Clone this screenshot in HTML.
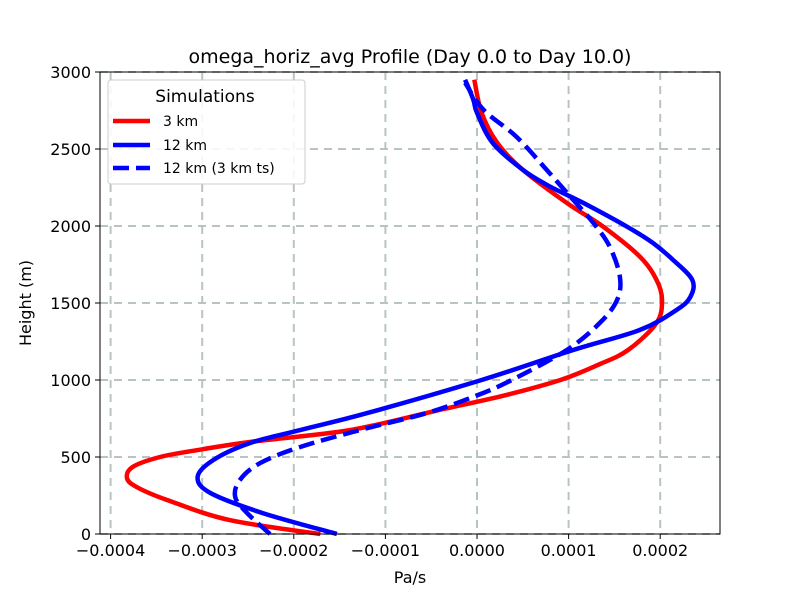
<!DOCTYPE html>
<html><head><meta charset="utf-8"><style>
body{margin:0;background:#fff}
svg text{font-family:"DejaVu Sans","Liberation Sans",sans-serif;fill:#000}
</style></head><body>
<svg id="chart" width="800" height="600" xmlns="http://www.w3.org/2000/svg">
<rect width="800" height="600" fill="#fff"/>
<g id="grid"></g>
<g id="lines"></g>
<rect x="100" y="72" width="620" height="462" fill="none" stroke="#000" stroke-width="1"/>
<g id="ticks"></g>
<text x="410" y="63" font-size="19" text-anchor="middle">omega_horiz_avg Profile (Day 0.0 to Day 10.0)</text>
<text x="410" y="583" font-size="16" text-anchor="middle">Pa/s</text>
<text x="31" y="303" font-size="16" text-anchor="middle" transform="rotate(-90 31 303)">Height (m)</text>
<g>
<rect x="108" y="80" width="197" height="104" rx="3" fill="#fff" fill-opacity="0.85" stroke="#ccc"/>
<text x="205" y="102" font-size="17" text-anchor="middle">Simulations</text>
<g><line x1="113" y1="121" x2="150" y2="121" stroke="red" stroke-width="4.5"/><text x="163" y="126" font-size="14">3 km</text></g>
<g><line x1="113" y1="145" x2="150" y2="145" stroke="blue" stroke-width="4.5"/><text x="163" y="150" font-size="14">12 km</text></g>
<g><line x1="113" y1="168" x2="150" y2="168" stroke="blue" stroke-width="4.5" stroke-dasharray="16,7"/><text x="163" y="173" font-size="14">12 km (3 km ts)</text></g>
</g>
</svg>
<script>
const heights3=[0,90,220,300,360,435,500,550,600,675,800,900,1000,1100,1195,1370,1520,1650,1800,1995,2150,2365,2540,2735,2950];
const omega3=[-1.71,-2.70,-3.38,-3.70,-3.82,-3.76,-3.46,-3.00,-2.45,-1.39,-0.45,0.30,0.91,1.33,1.65,1.96,2.02,1.96,1.78,1.38,0.98,0.50,0.22,0.05,-0.03];
const heights12=[0,136,266,370,480,590,675,785,1000,1195,1325,1455,1540,1650,1780,1890,1995,2150,2255,2365,2540,2735,2820,2950];
const omega12=[-1.53,-2.34,-2.91,-3.05,-2.88,-2.48,-1.93,-1.20,0.05,1.05,1.78,2.18,2.33,2.35,2.14,1.92,1.64,1.16,0.80,0.50,0.17,0.00,-0.04,-0.13];
const heights12ts=[0,136,240,350,460,565,675,785,900,1000,1195,1370,1520,1670,1865,2020,2190,2365,2580,2755,2930];
const omega12ts=[-2.26,-2.51,-2.64,-2.59,-2.37,-1.93,-1.28,-0.55,0.00,0.38,0.98,1.34,1.53,1.56,1.45,1.27,1.02,0.76,0.43,0.07,-0.13];
const xTicks=[-4,-3,-2,-1,0,1,2];
const xTickLabels=["\u22120.0004","\u22120.0003","\u22120.0002","\u22120.0001","0.0000","0.0001","0.0002"];
const yTicks=[0,500,1000,1500,2000,2500,3000];

const NS="http://www.w3.org/2000/svg";
function xs(v){return 477+v*91.6;}
function ys(h){return 534-h*0.154;}
function mk(tag,attrs,parent){const e=document.createElementNS(NS,tag);for(const k in attrs)e.setAttribute(k,attrs[k]);parent.appendChild(e);return e;}
const grid=document.getElementById('grid'),ticks=document.getElementById('ticks'),lines=document.getElementById('lines');
xTicks.forEach((v,i)=>{
  const g=mk('line',{x1:xs(v),x2:xs(v),y1:72,y2:534,stroke:'#b8c4c4','stroke-width':2,'stroke-dasharray':'8,6'},grid);
  
  
  mk('line',{x1:xs(v),x2:xs(v),y1:534,y2:539,stroke:'#000'},ticks);
  const t=mk('text',{x:xs(v),y:556,'font-size':16,'text-anchor':'middle'},ticks);
  t.textContent=xTickLabels[i];
  
  
});
yTicks.forEach(h=>{
  const g=mk('line',{x1:100,x2:720,y1:ys(h),y2:ys(h),stroke:'#b8c4c4','stroke-width':2,'stroke-dasharray':'8,6'},grid);
  
  
  mk('line',{x1:95,x2:100,y1:ys(h),y2:ys(h),stroke:'#000'},ticks);
  const t=mk('text',{x:91,y:ys(h)+6,'font-size':16,'text-anchor':'end'},ticks);
  t.textContent=String(h);
  
  
});
function series(xv,hv,color,dash,name){
  const P=xv.map((v,i)=>[xs(v),ys(hv[i])]);
  let d='M'+P[0][0].toFixed(1)+' '+P[0][1].toFixed(1);
  for(let i=0;i<P.length-1;i++){
    const p0=P[Math.max(0,i-1)],p1=P[i],p2=P[i+1],p3=P[Math.min(P.length-1,i+2)];
    const c1=[p1[0]+(p2[0]-p0[0])/6,p1[1]+(p2[1]-p0[1])/6];
    const c2=[p2[0]-(p3[0]-p1[0])/6,p2[1]-(p3[1]-p1[1])/6];
    d+=' C'+c1[0].toFixed(1)+' '+c1[1].toFixed(1)+' '+c2[0].toFixed(1)+' '+c2[1].toFixed(1)+' '+p2[0].toFixed(1)+' '+p2[1].toFixed(1);
  }
  const p=mk('path',{d:d,fill:'none',stroke:color,'stroke-width':4.5,'stroke-linejoin':'round'},lines);
  if(dash)p.setAttribute('stroke-dasharray',dash);
  
  
}
series(omega3,heights3,'red',null,'line-3km');
series(omega12,heights12,'blue',null,'line-12km');
series(omega12ts,heights12ts,'blue','16,7','line-12km-3kmts');
</script>
</body></html>
